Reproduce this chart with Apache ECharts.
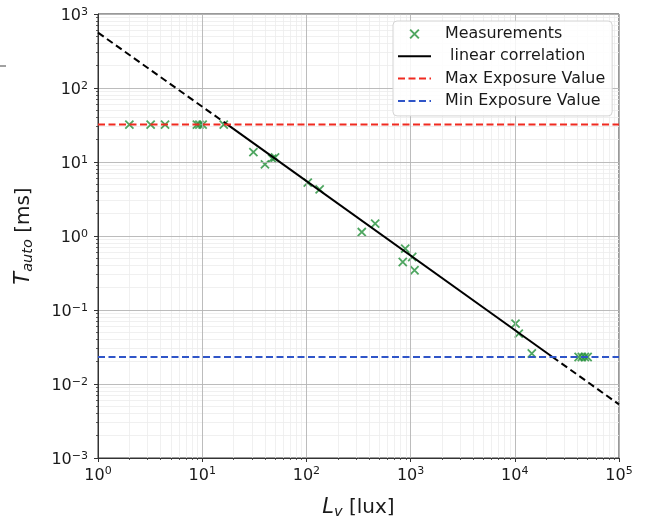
<!DOCTYPE html>
<html><head><meta charset="utf-8">
<script src="https://cdn.jsdelivr.net/npm/echarts@6/dist/echarts.min.js"></script>
<style>html,body{margin:0;padding:0;background:#fff}#c{width:647px;height:518px}</style>
</head><body><div id="c"></div>
<script>
// ---- data ----
const measLux = [2.0, 3.2, 4.4, 8.9, 9.4, 10.1, 16.1, 31, 40, 47, 50, 103, 134, 340, 457, 841, 888, 1036, 1090, 10160, 10920, 14560, 41000, 44000, 47000, 50000];
const measT   = [32, 32, 32, 32, 32, 32, 32, 13.6, 9.3, 11.1, 11.5, 5.27, 4.27, 1.13, 1.47, 0.446, 0.676, 0.52, 0.344, 0.0655, 0.048, 0.0258, 0.0232, 0.0232, 0.0232, 0.0232];
const fitLeftLux  = [1, 17.5];
const fitLeftT    = [560, 32];
const fitLux      = [17.5, 23000];
const fitT        = [32, 0.0232];
const fitRightLux = [23000, 100000];
const fitRightT   = [0.0232, 0.0053];
const luxRange = [1, 100000];
const maxExposure = 32;
const minExposure = 0.0232;
const xTickValues = [1, 10, 100, 1000, 10000, 100000];
const yTickValues = [0.001, 0.01, 0.1, 1, 10, 100, 1000];
const legendNames = ['Measurements', ' linear correlation', 'Max Exposure Value', 'Min Exposure Value'];

// minor grid positions (2..9 in each decade)
function minors(lo, hi){ const r=[]; for(let d=lo; d<hi; d*=10){ for(let k=2;k<=9;k++) r.push(+(k*d).toPrecision(3)); } return r; }
const xMinor = minors(1, 100000);
const yMinor = minors(0.001, 1000);

const FONT = 'DejaVu Sans';
const TXT = '#1a1a1a';
function expLabel(v){ const e = Math.round(Math.log10(v)); return '{b|10}{s|' + (e<0 ? '\u2212' + (-e) : e) + '}'; }
const tickRich = {
  b:{fontSize:16, fontFamily:FONT, color:TXT, lineHeight:19},
  s:{fontSize:11, fontFamily:FONT, color:TXT, lineHeight:11, verticalAlign:'top'}
};
const nameRich = {
  i:{fontSize:21, fontFamily:FONT, fontStyle:'italic', color:TXT, lineHeight:24},
  sub:{fontSize:14.5, fontFamily:FONT, fontStyle:'italic', color:TXT, lineHeight:14, verticalAlign:'bottom'},
  n:{fontSize:20, fontFamily:FONT, color:TXT, lineHeight:24}
};
const pair = (xs, ys) => xs.map((x,i)=>[x, ys[i]]);

const chart = echarts.init(document.getElementById('c'), null, {renderer:'canvas'});
const mainAxisCommon = {
  type:'log', logBase:10,
  axisLine:{show:true, lineStyle:{color:'#333', width:1}},
  axisTick:{show:true, length:4, lineStyle:{color:'#333', width:1}},
  splitLine:{show:true, lineStyle:{color:'#b4b4b4', width:0.9}},
  axisLabel:{formatter:expLabel, rich:tickRich, fontFamily:FONT, color:TXT},
  axisPointer:{show:false}
};
const minorAxisCommon = {
  type:'log', logBase:10,
  axisLine:{show:false},
  axisLabel:{show:false},
  splitLine:{show:true, lineStyle:{color:'#ececec', width:0.8}},
  axisPointer:{show:false}
};
const hiddenSym = {color:'rgba(0,0,0,0)', borderWidth:0, opacity:0};
const option = {
  animation:false,
  backgroundColor:'#fff',
  grid:{left:98, top:14, width:521, height:444, show:true, borderColor:'#333', borderWidth:1,
        containLabel:false, outerBoundsMode:'none'},
  xAxis:[
    Object.assign({}, mainAxisCommon, {min:luxRange[0], max:luxRange[1], position:'bottom', z:3,
      axisLabel:Object.assign({}, mainAxisCommon.axisLabel, {margin:8, customValues:xTickValues}),
      name:'{i|L}{sub|v}{n| [lux]}', nameLocation:'middle', nameGap:38,
      nameTextStyle:{rich:nameRich}
    }),
    Object.assign({}, minorAxisCommon, {min:luxRange[0], max:luxRange[1], position:'bottom', z:1,
      axisTick:{show:true, length:2, customValues:xMinor, lineStyle:{color:'#333', width:0.8}}})
  ],
  yAxis:[
    Object.assign({}, mainAxisCommon, {min:yTickValues[0], max:yTickValues[yTickValues.length-1], position:'left', z:3, splitNumber:6,
      axisLabel:Object.assign({}, mainAxisCommon.axisLabel, {margin:10, padding:[4,0,0,0], customValues:yTickValues}),
      name:'{i|T}{sub|auto}{n| [ms]}', nameLocation:'middle', nameGap:62, nameRotate:90,
      nameTextStyle:{rich:nameRich}
    }),
    Object.assign({}, minorAxisCommon, {min:yTickValues[0], max:yTickValues[yTickValues.length-1], position:'left', z:1,
      axisTick:{show:true, length:2, customValues:yMinor, lineStyle:{color:'#333', width:0.8}}})
  ],
  legend:{
    orient:'vertical', left:393, top:21,
    itemWidth:33, itemHeight:14, itemGap:6.3,
    padding:[5,7,7,4],
    backgroundColor:'rgba(255,255,255,0.85)', borderColor:'#d4d4d4', borderWidth:1, borderRadius:4,
    textStyle:{fontFamily:FONT, fontSize:15.9, color:TXT, padding:[0,0,0,9]},
    data:[legendNames[0],
      {name:legendNames[1], itemStyle:hiddenSym},
      {name:legendNames[2], itemStyle:hiddenSym},
      {name:legendNames[3], itemStyle:hiddenSym}]
  },
  series:[
    {name:legendNames[0], type:'scatter', data:pair(measLux, measT),
     symbol:'path://M-3,-3M13,13M0,0L10,10M10,0L0,10', symbolSize:13, symbolKeepAspect:true,
     itemStyle:{color:'rgba(0,0,0,0)', borderColor:'#23903a', borderWidth:1.8}, z:2, silent:true},
    {name:'fitLeft', type:'line', data:pair(fitLeftLux, fitLeftT), symbol:'none', showSymbol:false,
     lineStyle:{color:'#000', width:2, type:[7,4]}, z:3, silent:true},
    {name:legendNames[1], type:'line', data:pair(fitLux, fitT), symbol:'none', showSymbol:false,
     lineStyle:{color:'#000', width:2}, itemStyle:{color:'rgba(0,0,0,0)'}, z:3, silent:true},
    {name:'fitRight', type:'line', data:pair(fitRightLux, fitRightT), symbol:'none', showSymbol:false,
     lineStyle:{color:'#000', width:2, type:[7,4]}, z:3, silent:true},
    {name:legendNames[2], type:'line', data:pair(luxRange, [maxExposure, maxExposure]), symbol:'none', showSymbol:false,
     lineStyle:{color:'#f02a20', width:2, type:[7,3.5]}, itemStyle:{color:'rgba(0,0,0,0)'}, z:4, silent:true},
    {name:legendNames[3], type:'line', data:pair(luxRange, [minExposure, minExposure]), symbol:'none', showSymbol:false,
     lineStyle:{color:'#2f55c8', width:2, type:[7,3.5]}, itemStyle:{color:'rgba(0,0,0,0)'}, z:4, silent:true}
  ],
  graphic:[
    {type:'line', shape:{x1:0, y1:66, x2:6, y2:66}, style:{stroke:'#444', lineWidth:1}}
  ]
};
chart.setOption(option);
</script>
</body></html>
